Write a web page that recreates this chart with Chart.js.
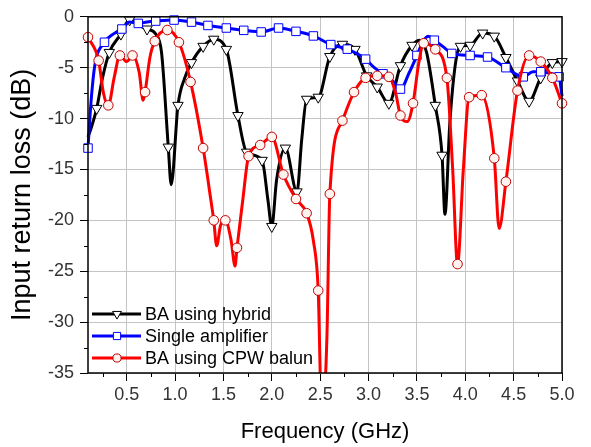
<!DOCTYPE html>
<html><head><meta charset="utf-8">
<script src="https://cdn.jsdelivr.net/npm/chart.js@4"></script>
<style>html,body{margin:0;padding:0;background:#fff}canvas{display:block}</style>
</head><body>
<canvas id="c" width="591" height="447"></canvas>
<script>
// ---- data (GHz, dB) ----
const hybridFreq = [0.10,0.13,0.19,0.25,0.32,0.44,0.53,0.62,0.71,0.80,0.86,0.93,0.96,1.03,1.10,1.17,1.29,1.40,1.53,1.65,1.74,1.90,1.96,2.00,2.05,2.14,2.26,2.31,2.36,2.48,2.60,2.73,2.86,2.98,3.09,3.21,3.33,3.45,3.53,3.60,3.69,3.76,3.79,3.84,3.90,3.95,4.05,4.18,4.30,4.42,4.54,4.66,4.78,4.90,5.00];
const hybridLoss = [-11.8,-11.0,-9.0,-6.0,-3.5,-1.7,-0.3,-0.8,-1.2,-1.7,-3.5,-12.8,-16.5,-8.7,-6.0,-4.5,-2.9,-2.2,-3.2,-9.7,-13.3,-14.1,-18.0,-20.6,-16.0,-12.9,-17.2,-12.0,-8.1,-7.9,-3.9,-2.7,-3.2,-5.8,-6.9,-8.5,-4.8,-2.8,-2.3,-3.5,-8.7,-13.6,-19.4,-10.5,-4.5,-2.9,-2.8,-1.6,-1.9,-4.0,-6.3,-8.3,-6.0,-4.5,-4.4];
const hybridMarkedAt = [0.19,0.32,0.44,0.53,0.71,0.93,1.03,1.17,1.29,1.40,1.53,1.65,1.74,1.90,2.00,2.14,2.26,2.36,2.48,2.60,2.73,2.86,2.98,3.09,3.21,3.33,3.45,3.69,3.76,3.95,4.05,4.18,4.30,4.42,4.54,4.66,4.78,4.90,5.00];

const singleFreq = [0.10,0.13,0.17,0.27,0.36,0.45,0.53,0.62,0.71,0.80,0.99,1.17,1.34,1.53,1.71,1.89,2.07,2.25,2.43,2.61,2.78,2.97,3.06,3.15,3.25,3.33,3.42,3.50,3.57,3.62,3.68,3.78,3.86,4.05,4.23,4.42,4.60,4.70,4.78,4.90,4.97,5.00];
const singleLoss = [-12.9,-8.5,-4.8,-2.5,-1.7,-1.2,-0.5,-0.65,-0.5,-0.42,-0.32,-0.52,-0.85,-1.1,-1.33,-1.49,-1.1,-1.43,-1.88,-2.73,-3.18,-4.16,-5.0,-5.6,-6.3,-7.1,-5.5,-3.8,-2.3,-1.9,-2.3,-3.0,-3.6,-3.8,-3.95,-5.0,-5.9,-5.4,-5.4,-5.6,-5.9,-7.8];
const singleMarkedAt = [0.10,0.27,0.45,0.62,0.80,0.99,1.17,1.34,1.53,1.71,1.89,2.07,2.25,2.43,2.61,2.78,2.97,3.15,3.33,3.50,3.68,3.86,4.05,4.23,4.42,4.60,4.78,4.97];

const cpwFreq = [0.10,0.21,0.26,0.31,0.37,0.43,0.50,0.56,0.63,0.67,0.69,0.74,0.79,0.92,1.04,1.16,1.29,1.37,1.40,1.43,1.47,1.52,1.58,1.62,1.64,1.70,1.76,1.88,2.00,2.12,2.25,2.36,2.43,2.48,2.51,2.54,2.57,2.60,2.73,2.85,2.97,3.09,3.21,3.28,3.33,3.40,3.46,3.52,3.57,3.69,3.81,3.87,3.92,3.98,4.04,4.17,4.30,4.35,4.42,4.54,4.66,4.78,4.90,5.00];
const cpwLoss = [-2.0,-4.3,-7.5,-8.7,-6.0,-3.8,-4.4,-3.8,-5.5,-8.2,-7.4,-4.0,-2.4,-1.3,-2.5,-6.4,-12.9,-18.0,-20.0,-22.5,-20.5,-20.0,-22.0,-24.5,-22.7,-18.0,-13.7,-12.6,-11.8,-15.5,-17.9,-19.3,-22.0,-26.9,-37.0,-37.0,-31.4,-17.4,-10.2,-7.4,-6.0,-5.8,-5.9,-7.5,-9.7,-10.3,-8.5,-4.5,-2.6,-3.2,-6.0,-15.0,-24.3,-15.0,-7.9,-7.7,-13.9,-20.8,-16.2,-7.25,-3.8,-4.4,-6.0,-8.5];
const cpwMarkedAt = [0.10,0.21,0.31,0.43,0.56,0.69,0.79,0.92,1.04,1.16,1.29,1.40,1.52,1.64,1.76,1.88,2.00,2.12,2.25,2.36,2.48,2.60,2.73,2.85,2.97,3.09,3.21,3.33,3.46,3.57,3.69,3.81,3.92,4.04,4.17,4.30,4.42,4.54,4.66,4.78,4.90,5.00];

const seriesLabels = ['BA using hybrid','Single amplifier','BA using CPW balun'];
const xTickValues = [0.5,1.0,1.5,2.0,2.5,3.0,3.5,4.0,4.5,5.0];
const xTickLabels = ['0.5','1.0','1.5','2.0','2.5','3.0','3.5','4.0','4.5','5.0'];
const yTickValues = [0,-5,-10,-15,-20,-25,-30,-35];
const yTickLabels = ['0','-5','-10','-15','-20','-25','-30','-35'];
const xTitle = 'Frequency (GHz)';
const yTitle = 'Input return loss (dB)';

// ---- styling ----
const FONT = '"Liberation Sans", Arial, sans-serif';
function pts(f, v){ return f.map((x,i)=>({x:x, y:v[i]})); }
function markR(freq, marked, r){ return c => marked.includes(freq[c.dataIndex]) ? r : 0; }

const styles = [
  {color:'#000000', style:'triangle', rot:180, r:6, fill:'#ffffff', border:'#000000'},
  {color:'#0000ff', style:'rect', rot:0, r:6, fill:'#ffffff', border:'#0000ff'},
  {color:'#ff0000', style:'circle', rot:0, r:4.8, fill:'#fff3ef', border:'#c00000'}
];

function makeDs(label, f, v, marked, s, order){
  return {
    label, data: pts(f, v), order,
    borderColor: s.color, borderWidth: 3,
    cubicInterpolationMode: 'monotone',
    pointStyle: s.style, pointRotation: s.rot,
    pointRadius: markR(f, marked, s.r), pointHoverRadius: 0,
    pointBackgroundColor: s.fill, pointBorderColor: s.border, pointBorderWidth: 1,
    clip: {left: 10, top: 10, right: 10, bottom: 0}
  };
}

const dsHybrid = makeDs(seriesLabels[0], hybridFreq, hybridLoss, hybridMarkedAt, styles[0], 2);
const dsSingle = makeDs(seriesLabels[1], singleFreq, singleLoss, singleMarkedAt, styles[1], 1);
const dsCpw = makeDs(seriesLabels[2], cpwFreq, cpwLoss, cpwMarkedAt, styles[2], 0);

const framePlugin = {
  id: 'frame',
  afterDatasetsDraw(chart){
    const {ctx, chartArea:a, scales} = chart;
    ctx.save();
    ctx.strokeStyle = '#000'; ctx.lineWidth = 1;
    ctx.beginPath();
    for (let f = 0.25; f < 5.0; f += 0.5){
      const x = Math.round(scales.x.getPixelForValue(f)) + 0.5;
      ctx.moveTo(x, a.bottom); ctx.lineTo(x, a.bottom + 4);
    }
    for (let d = -2.5; d > -35; d -= 5){
      const y = Math.round(scales.y.getPixelForValue(d)) + 0.5;
      ctx.moveTo(a.left, y); ctx.lineTo(a.left - 4, y);
    }
    ctx.stroke();
    ctx.lineWidth = 1.5;
    ctx.strokeRect(a.left, a.top, a.right - a.left, a.bottom - a.top);
    ctx.restore();
  }
};

const legendPlugin = {
  id: 'innerLegend',
  afterDraw(chart){
    const ctx = chart.ctx;
    const rows = [[dsHybrid, styles[0], 314], [dsSingle, styles[1], 336], [dsCpw, styles[2], 358]];
    rows.forEach(([ds, s, y]) => {
      ctx.save();
      ctx.strokeStyle = s.color; ctx.lineWidth = 3;
      ctx.beginPath(); ctx.moveTo(92, y); ctx.lineTo(141, y); ctx.stroke();
      ctx.fillStyle = s.fill; ctx.strokeStyle = s.border; ctx.lineWidth = 1;
      Chart.helpers.drawPoint(ctx, {pointStyle: s.style, rotation: s.rot, radius: s.r * 0.85, borderWidth: 1}, 117, y);
      ctx.fillStyle = '#000';
      ctx.font = '18px ' + FONT;
      ctx.textBaseline = 'middle'; ctx.textAlign = 'left';
      ctx.fillText(ds.label, 145, y + 1);
      ctx.restore();
    });
  }
};

new Chart(document.getElementById('c'), {
  type: 'line',
  data: { datasets: [dsCpw, dsSingle, dsHybrid] },
  options: {
    responsive: false, animation: false,
    layout: { padding: { top: 14, right: 29, left: 0, bottom: 0 } },
    plugins: { legend: { display: false }, tooltip: { enabled: false } },
    scales: {
      x: {
        type: 'linear', min: 0.1, max: 5.0,
        afterBuildTicks: s => { s.ticks = xTickValues.map(v => ({value: v})); },
        afterFit: s => { s.height = 74; },
        grid: { color: '#c4c4c4', lineWidth: 1, drawTicks: true, tickLength: 8, tickColor: '#000', tickWidth: 1 },
        border: { display: false },
        ticks: { autoSkip: false, maxRotation: 0, padding: 3, color: '#333',
          font: { family: FONT, size: 18 },
          callback: v => xTickLabels[xTickValues.indexOf(v)] },
        title: { display: true, text: xTitle, color: '#000', font: { family: FONT, size: 22 }, padding: { top: 0, bottom: 2 } }
      },
      y: {
        type: 'linear', min: -35, max: 0,
        afterBuildTicks: s => { s.ticks = yTickValues.map(v => ({value: v})); },
        afterFit: s => { s.width = 88; },
        grid: { color: '#c4c4c4', lineWidth: 1, drawTicks: true, tickLength: 8, tickColor: '#000', tickWidth: 1 },
        border: { display: false },
        ticks: { autoSkip: false, padding: 6, color: '#333',
          font: { family: FONT, size: 18 },
          callback: v => yTickLabels[yTickValues.indexOf(v)] },
        title: { display: true, text: yTitle, color: '#000', font: { family: FONT, size: 27 }, padding: { top: 6, bottom: 0 } }
      }
    }
  },
  plugins: [framePlugin, legendPlugin]
});
</script>
</body></html>
